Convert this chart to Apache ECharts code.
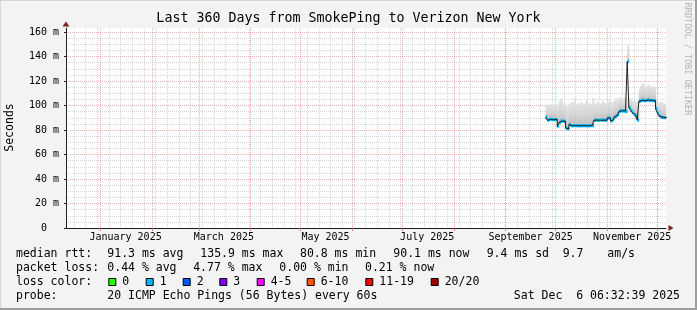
<!DOCTYPE html>
<html><head><meta charset="utf-8">
<script src="https://cdn.jsdelivr.net/npm/echarts@6/dist/echarts.min.js"></script>
<style>html,body{margin:0;padding:0;background:#f3f3f3}#c{width:697px;height:310px}</style>
</head><body><div id="c"></div>
<script>
// ---------------- data ----------------
const titleText = 'Last 360 Days from SmokePing to Verizon New York';
const rangeStartIso = '2024-12-11T06:32:39Z';
const rangeEndIso = '2025-12-06T06:32:39Z';
const firstDay = '2025-09-25';
// daily median RTT (ms), Sep 25 .. Dec 6 2025
const medianRtt = [
  90.5, 88.0, 88.6, 88.8, 88.4, 88.6,
  88.6, 83.0, 86.0, 87.3, 87.3, 87.0, 81.6, 80.8, 84.5, 83.5, 83.4, 83.6, 83.5, 83.5, 83.4, 83.5,
  83.6, 83.5, 83.5, 83.4, 83.5, 83.6, 83.5, 88.0, 88.1, 87.9, 88.0, 88.2, 88.0, 88.1, 88.0,
  89.8, 89.8, 87.3, 88.5, 90.5, 91.5, 92.5, 95.2, 95.7, 95.5, 95.5, 95.0, 135.9, 98.0, 96.0,
  94.0, 92.5, 91.0, 88.0, 103.5, 104.0, 104.5, 104.0, 104.2, 104.5, 104.0, 104.2, 104.0, 103.8, 97.5,
  94.0, 91.5, 90.5, 90.2, 90.1, 90.1
];
// top of the ping "smoke" (ms)
const smokeTop = [
  100.5, 101, 100, 101.5, 100.5, 101,
  101, 99, 104, 106, 101, 102, 100, 99, 101, 103, 102, 106, 101, 102, 100.5, 103,
  101, 101.5, 104, 101, 102, 101, 106, 101, 102, 103, 101, 102, 103.5, 102, 101.5,
  103, 105, 102, 103, 104, 106, 104, 107, 106, 105, 107, 106, 149, 106, 105,
  104, 104, 103, 104, 114, 117, 118, 116, 115, 117, 116, 115, 116, 115, 104,
  103, 102, 103, 102, 101.5, 101
];
// loss colour bucket index per day
const lossBucket = [
  1, 1, 1, 1, 1, 1,
  1, 1, 1, 1, 1, 1, 1, 1, 1, 1, 1, 1, 1, 1, 1, 1,
  1, 1, 1, 1, 1, 1, 1, 1, 1, 1, 0, 1, 1, 1, 1,
  1, 1, 1, 1, 1, 1, 1, 1, 1, 1, 1, 1, 1, 1, 1,
  1, 1, 1, 1, 1, 1, 1, 1, 1, 1, 1, 1, 1, 1, 1,
  1, 1, 1, 1, 1, 1
];
const lossLabels = ['0', '1', '2', '3', '4-5', '6-10', '11-19', '20/20'];
const lossColors = ['#26ff00', '#00b8ff', '#0059ff', '#7e00ff', '#ff00ff', '#ff5500', '#ff0000', '#a00000'];
const monthStarts = ['2025-01-01','2025-02-01','2025-03-01','2025-04-01','2025-05-01','2025-06-01',
  '2025-07-01','2025-08-01','2025-09-01','2025-10-01','2025-11-01','2025-12-01'];
const monthLabelDates = ['2025-01-16','2025-03-16','2025-05-16','2025-07-16','2025-09-16','2025-11-16'];
const monthLabelTexts = ['January 2025','March 2025','May 2025','July 2025','September 2025','November 2025'];
const firstWeekLine = '2024-12-16';
const yTicks = [0, 20, 40, 60, 80, 100, 120, 140, 160];
const medianStats = ['91.3 ms avg', '135.9 ms max', '80.8 ms min', '90.1 ms now', '9.4 ms sd', '9.7', 'am/s'];
const lossStats = ['0.44 % avg', '4.77 % max', '0.00 % min', '0.21 % now'];
const probeText = '20 ICMP Echo Pings (56 Bytes) every 60s';
const stampText = 'Sat Dec  6 06:32:39 2025';

// ---------------- layout / style ----------------
const DAY = 86400000;
const T = s => Date.parse(s + 'T00:00:00Z');
const rangeStart = Date.parse(rangeStartIso);
const rangeEnd = Date.parse(rangeEndIso);
const dayStamps = medianRtt.map((_, i) => T(firstDay) + i * DAY);
const weekLines = [];
for (let t = T(firstWeekLine); t < rangeEnd; t += 7 * DAY) weekLines.push(t);
const BAND = 1.3;
const MONO = '"DejaVu Sans Mono", monospace';
const medianX = [107.3, 200.3, 300, 393.3, 486.7, 562.7, 607.3];
const lossX = [107.3, 193.2, 279.3, 365];
const boxX = [108.3, 145.7, 182.7, 219.3, 256.7, 306.7, 365.3, 430.7];
const rowY = [254.5, 268.3, 282, 296];

const labelMap = {};
monthLabelDates.forEach((d, i) => { labelMap[T(d)] = monthLabelTexts[i]; });

const chart = echarts.init(document.getElementById('c'), null, { renderer: 'canvas' });

const smokeGrad = new echarts.graphic.LinearGradient(0, 0, 0, 1, [
  { offset: 0, color: '#e2e2e2' }, { offset: 0.5, color: '#d6d6d6' }, { offset: 1, color: '#bdbdbd' }
]);

function txt(text, x, y, size, extra) {
  return Object.assign({
    type: 'text', x: x, y: y, silent: true,
    style: Object.assign({ text: text, font: size + 'px ' + MONO, fill: '#000',
      align: 'left', verticalAlign: 'middle', textAlign: 'left', textVerticalAlign: 'middle' }, (extra && extra.style) || {})
  }, extra ? { rotation: extra.rotation || 0 } : {});
}

const graphics = [];
// frame
graphics.push({ type: 'rect', shape: { x: 0, y: 0, width: 697, height: 1 }, style: { fill: '#d6d6d6' }, silent: true });
graphics.push({ type: 'rect', shape: { x: 0, y: 0, width: 1, height: 310 }, style: { fill: '#d6d6d6' }, silent: true });
graphics.push({ type: 'rect', shape: { x: 0, y: 308, width: 697, height: 2 }, style: { fill: '#9e9e9e' }, silent: true });
graphics.push({ type: 'rect', shape: { x: 695, y: 0, width: 2, height: 310 }, style: { fill: '#9e9e9e' }, silent: true });
// title
graphics.push(txt(titleText, 348.5, 19, 13.3, { style: { align: 'center', textAlign: 'center' } }));
// y name
graphics.push(txt('Seconds', 10, 127.5, 11.5, { rotation: Math.PI / 2, style: { align: 'center', textAlign: 'center' } }));
// watermark
graphics.push(txt('RRDTOOL / TOBI OETIKER', 687, 59, 8.5, { rotation: -Math.PI / 2, style: { align: 'center', textAlign: 'center', fill: '#b4b4b4' } }));
// legend rows
graphics.push(txt('median rtt:', 16, rowY[0], 11.5));
medianStats.forEach((s, i) => graphics.push(txt(s, medianX[i], rowY[0], 11.5)));
graphics.push(txt('packet loss:', 16, rowY[1], 11.5));
lossStats.forEach((s, i) => graphics.push(txt(s, lossX[i], rowY[1], 11.5)));
graphics.push(txt('loss color:', 16, rowY[2], 11.5));
lossLabels.forEach((s, i) => {
  graphics.push({ type: 'rect', silent: true, shape: { x: boxX[i] + 0.5, y: rowY[2] - 3.5, width: 7, height: 7 },
    style: { fill: lossColors[i], stroke: '#000', lineWidth: 1 } });
  graphics.push(txt(s, boxX[i] + 14, rowY[2], 11.5));
});
graphics.push(txt('probe:', 16, rowY[3], 11.5));
graphics.push(txt(probeText, 107.3, rowY[3], 11.5));
graphics.push(txt(stampText, 680, rowY[3], 11.5, { style: { align: 'right', textAlign: 'right' } }));

const minorGrid = { color: 'rgba(150,150,150,0.38)', width: 1, type: [1, 1] };
const majorGrid = { color: 'rgba(222,81,81,0.45)', width: 1, type: [1, 1] };

const option = {
  animation: false,
  backgroundColor: '#f3f3f3',
  grid: { left: 66, top: 28, width: 600, height: 200, show: true, backgroundColor: '#ffffff', borderWidth: 0 },
  xAxis: [
    { type: 'value', position: 'bottom', min: rangeStart, max: rangeEnd,
      axisLine: { show: true, onZero: false, symbol: ['none', 'triangle'], symbolSize: [6, 5], symbolOffset: [0, 5],
        lineStyle: { color: '#7f1f1f', width: 0 } },
      axisTick: { show: false, customValues: weekLines },
      axisLabel: { show: false },
      splitLine: { show: true, lineStyle: minorGrid } },
    { type: 'value', position: 'bottom', min: rangeStart, max: rangeEnd,
      axisLine: { show: true, onZero: false, lineStyle: { color: '#1f1f1f', width: 1 } },
      axisTick: { show: true, customValues: monthStarts.map(T), length: 3, lineStyle: { color: 'rgba(222,81,81,0.7)' } },
      axisLabel: { show: true, customValues: monthLabelDates.map(T), formatter: v => labelMap[v] || '',
        fontFamily: MONO, fontSize: 10, color: '#000', margin: 4 },
      splitLine: { show: true, lineStyle: majorGrid } }
  ],
  yAxis: [
    { type: 'value', position: 'left', min: 0, max: 163.3, interval: 20,
      axisLine: { show: true, onZero: false, lineStyle: { color: '#1f1f1f', width: 1 } },
      axisTick: { show: true, customValues: yTicks, length: 2, lineStyle: { color: '#1f1f1f' } },
      axisLabel: { show: true, customValues: yTicks, formatter: v => v === 0 ? '0  ' : v + ' m',
        fontFamily: MONO, fontSize: 10, color: '#000', margin: 7 },
      minorTick: { show: false, splitNumber: 4 },
      splitLine: { show: true, lineStyle: majorGrid },
      minorSplitLine: { show: true, lineStyle: minorGrid } },
    { type: 'value', position: 'left', min: 0, max: 163.3,
      axisLine: { show: true, onZero: false, symbol: ['none', 'triangle'], symbolSize: [7, 5], symbolOffset: [0, 4],
        lineStyle: { color: '#7f1f1f', width: 0 } },
      axisTick: { show: false }, axisLabel: { show: false }, splitLine: { show: false } }
  ],
  series: [
    { type: 'custom', name: 'smoke', xAxisIndex: 1, yAxisIndex: 0, clip: true,
      data: dayStamps.map((t, i) => [t, medianRtt[i], smokeTop[i]]),
      encode: { x: 0, y: [1, 2] },
      renderItem: function (params, api) {
        const t = api.value(0);
        const a = api.coord([t, api.value(2)]);
        const b = api.coord([t + DAY, api.value(1)]);
        return { type: 'rect', shape: { x: a[0], y: a[1], width: b[0] - a[0] + 0.5, height: b[1] - a[1] },
          style: { fill: smokeGrad } };
      } },
    { type: 'line', name: 'median', xAxisIndex: 1, yAxisIndex: 0, step: 'end', symbol: 'none', clip: true,
      data: dayStamps.map((t, i) => [t, medianRtt[i]]).concat([[dayStamps[dayStamps.length - 1] + DAY, medianRtt[medianRtt.length - 1]]]),
      lineStyle: { color: '#202020', width: 1 } },
    { type: 'custom', name: 'loss', xAxisIndex: 1, yAxisIndex: 0, clip: true,
      data: dayStamps.map((t, i) => [t, medianRtt[i], lossBucket[i]]),
      encode: { x: 0, y: 1 },
      renderItem: function (params, api) {
        const t = api.value(0), m = api.value(1), li = api.value(2);
        const a = api.coord([t, m + BAND]);
        const b = api.coord([t + DAY, m - BAND]);
        return { type: 'rect', shape: { x: a[0], y: a[1], width: b[0] - a[0] + 0.3, height: b[1] - a[1] },
          style: { fill: lossColors[li] } };
      } }
  ],
  graphic: graphics
};
chart.setOption(option);
</script>
</body></html>
